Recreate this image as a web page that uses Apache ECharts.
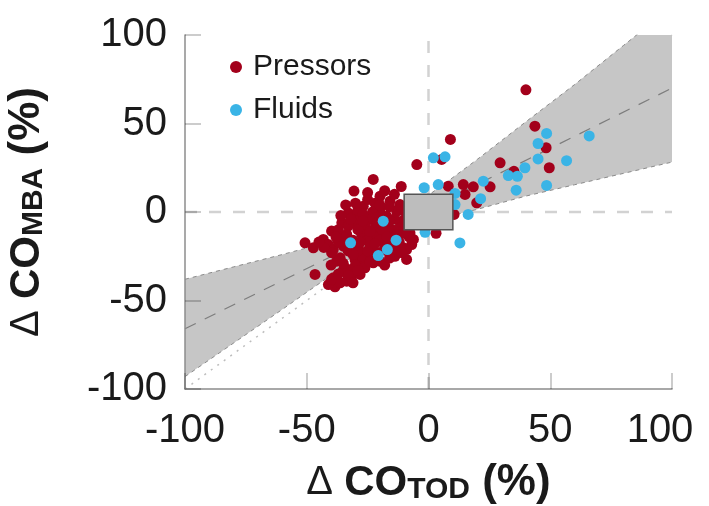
<!DOCTYPE html>
<html><head><meta charset="utf-8">
<script src="https://cdn.jsdelivr.net/npm/echarts@6/dist/echarts.min.js"></script>
<style>html,body{margin:0;padding:0;background:#fff}#c{width:709px;height:506px}</style>
</head><body><div id="c"></div>
<script>
// ---- data ----
const axisTicks = [-100, -50, 0, 50, 100];
const seriesNames = ['Pressors', 'Fluids'];

const pressors = [
  [40,69],[9,41],[5.4,29.7],[-4.8,26.8],[43.7,48.5],[48.3,36.3],[29.4,27.8],[35.1,23],[49.6,25],
  [25.3,14.2],[14.3,15.5],[18.4,14.2],[15,9.9],[8.1,14.6],[19.8,5.2],[10.5,-1.4],[3.1,-12],
  [-22.7,18.4],[-30.6,11.8],[-11.2,14.4],[-19.9,8.9],[-15.8,6.1],[-26.8,3.3],[-32.9,-0.5],
  [-13.1,0.5],[-19.9,1.4],[-11.7,4.2],[-6.2,3.3],[-16,3],[-25,7],[-22,5],[-18,12],[-14,10],
  [-23,0],[-9,-2],
  [-35.6,-6.1],[-29.5,-7.1],[-24,-4.2],[-17.2,-2.4],[-11,-5.2],[-7.6,-8],[-7.6,-11.8],[-30,-2],
  [-28,-4],[-33,-8],[-26,-8],[-22,-9],[-18,-7],[-14,-4],[-15,-10],[-12,-9],[-20,-12],
  [-39.8,-10.8],[-33.6,-12.7],[-27.4,-12.7],[-22.7,-13.7],[-13,-13],[-35,-14],[-43.2,-15.5],
  [-50.7,-17.4],[-47.3,-20.2],[-41.1,-18.4],[-39.1,-21.2],[-35,-19.3],[-37,-17],[-31,-16],
  [-25,-16],[-20,-16],[-16,-18],[-12,-17],[-28.8,-20.2],[-24,-19.3],[-10.3,-20.2],[-6.9,-18.4],
  [-6.2,-15.5],[-9,-21.2],[-8,-14],
  [-36.3,-25.9],[-30.2,-26.8],[-26.8,-25],[-13.8,-25],[-9,-26.8],[-19.9,-27.8],[-37.7,-27.8],
  [-39.8,-23],[-33,-22],[-29,-22],[-21,-23],[-17,-22],[-24,-25],[-27,-27],[-18,-30],
  [-32.9,-32.5],[-26.8,-30.6],[-22.7,-28.7],[-26.1,-31.5],[-30,-30],[-35,-33],[-46.6,-35.3],
  [-39.1,-37.2],[-38.4,-42.3],[-31.5,-36.3],[-28.1,-35.3],[-36.3,-40],[-41.1,-41],[-33.6,-39.1],
  [-39.8,-38],
  [-34,4],[-29,1],[-27,-1],[-21,-3],[-16,-5],[-19,-10],[-24,-11],[-29,-10],[-32,-4],[-37,-10],
  [-38,-14],[-33,-17],[-28,-17],[-22,-18],[-18,-20],[-14,-21],[-11,-23],[-16,-26],[-21,-27],
  [-25,-22],[-31,-24],[-35,-29],[-29,-33],[-24,-28],[-33,-36],[-37,-35],[-43,-20],[-45,-17],
  [-40,-30],[-31,-40],[-14,-14],[-10,-12],[-17,-14],[-27,-5],[-21,-6],[-36,-2],[-30,5],
  [-25,11],[-20,4],[-12,1]
];

const fluids = [
  [48.5,44.4],[45,38.7],[66,43],[45,30],[56.7,29],[39.6,25],[32.8,20.6],[36.5,20.2],[36,12.3],
  [48.5,15],[22.5,17.4],[21.4,7.5],[16.3,-1.4],[10.9,10.5],[10.9,4.2],[4,15.5],[-1.8,13.7],
  [2,30.6],[6.8,31.2],[-1.4,-11.5],[12.9,-17.5],[-18.6,-5.2],[-32,-17.4],[-13.3,-15.9],
  [-16.9,-21.2],[-20.6,-24.6]
];

// confidence band
const bandX     = [-100, -80, -60, -40,   -30,  -20,   -10,   0,   10,   20,   40,  60,  80,  100];
const bandUpper = [ -38, -31, -24, -16.6, -13.8, -8.6, -0.2,  9.5, 19.5, 29.7, 51,  72,  94,  116];
const bandLower = [ -93, -74, -55, -35.7, -23,  -14.6, -9.4, -5.5, -1.9, 1.5,  9,   15.4, 21.8, 28.2];

// regression line, identity line, zone box
const regX = [-100, 100];
const regY = [-66, 70];
const identX = [-100, 100];
const identY = [-100, 100];
const boxX = [-10, 10];
const boxY = [-10, 10];

// ---- chart ----
const FONT = 'Liberation Sans';
const RED = '#a3001b';
const BLUE = '#3ab4e6';
const INK = '#1a1a1a';

const zip = (xs, ys) => xs.map((x, i) => [x, ys[i]]);

const nameRich = {
  d: { fontSize: 40, fontFamily: FONT, color: INK, fontWeight: 'normal', lineHeight: 44 },
  b: { fontSize: 42, fontFamily: FONT, color: INK, fontWeight: 'bold', lineHeight: 44 },
  s: { fontSize: 30, fontFamily: FONT, color: INK, fontWeight: 'bold', lineHeight: 20, verticalAlign: 'bottom' },
  p: { fontSize: 44, fontFamily: FONT, color: INK, fontWeight: 'bold', lineHeight: 44 }
};

const chart = echarts.init(document.getElementById('c'), null, { renderer: 'canvas' });
chart.setOption({
  animation: false,
  backgroundColor: '#fff',
  grid: { left: 185, right: 37, top: 35, bottom: 117, containLabel: false, outerBoundsMode: 'none' },
  legend: {
    data: seriesNames,
    orient: 'vertical',
    left: 225, top: 47,
    itemWidth: 24, itemHeight: 12, itemGap: 13,
    icon: 'circle',
    textStyle: { fontSize: 30, fontFamily: FONT, color: INK }
  },
  xAxis: {
    type: 'value', min: -100, max: 100, interval: 50, z: 3,
    splitLine: { show: false },
    axisLine: { show: true, onZero: false, lineStyle: { color: '#8c8c8c', width: 1.5 } },
    axisTick: { show: true, inside: true, length: 16, lineStyle: { color: 'rgba(0,0,0,0.2)', width: 2 } },
    axisLabel: {
      fontSize: 40, fontFamily: FONT, color: INK, margin: 22,
      formatter: v => (v === axisTicks[axisTicks.length - 1] ? '{last|' + v + '}' : String(v)),
      rich: { last: { fontSize: 40, fontFamily: FONT, color: INK, padding: [0, 24, 0, 0] } }
    },
    name: '{d|Δ }{b|CO}{s|TOD}{p| (%)}',
    nameLocation: 'middle', nameGap: 72,
    nameTextStyle: { rich: nameRich }
  },
  yAxis: {
    type: 'value', min: -100, max: 100, interval: 50, z: 3,
    splitLine: { show: false },
    axisLine: { show: true, onZero: false, lineStyle: { color: '#8c8c8c', width: 1.5 } },
    axisTick: { show: true, inside: true, length: 16, lineStyle: { color: 'rgba(0,0,0,0.2)', width: 2 } },
    axisLabel: { fontSize: 40, fontFamily: FONT, color: INK, margin: 18 },
    name: '{d|Δ }{b|CO}{s|MBA}{p| (%)}',
    nameLocation: 'middle', nameGap: 136, nameRotate: 90,
    nameTextStyle: { rich: nameRich }
  },
  series: [
    { type: 'line', name: 'zeroV', data: [[0, -100], [0, 100]], symbol: 'none', silent: true, z: 1,
      lineStyle: { color: '#d2d2d2', width: 2.5, type: [12, 12] } },
    { type: 'line', name: 'zeroH', data: [[-100, 0], [100, 0]], symbol: 'none', silent: true, z: 1,
      lineStyle: { color: '#d2d2d2', width: 2.5, type: [12, 12] } },
    { type: 'line', name: 'identity', data: zip(identX, identY), symbol: 'none', silent: true, z: 1,
      lineStyle: { color: '#bdbdbd', width: 1.5, type: [2, 6] } },
    { type: 'custom', name: 'band', clip: true, silent: true, z: 2, data: [[0, 0]],
      renderItem: function (params, api) {
        const pts = [];
        for (let i = 0; i < bandX.length; i++) pts.push(api.coord([bandX[i], bandUpper[i]]));
        for (let i = bandX.length - 1; i >= 0; i--) pts.push(api.coord([bandX[i], bandLower[i]]));
        return { type: 'polygon', shape: { points: pts }, style: { fill: '#c6c6c6' } };
      } },
    { type: 'line', name: 'bandU', data: zip(bandX, bandUpper), symbol: 'none', silent: true, z: 2,
      lineStyle: { color: '#8a8a8a', width: 1, type: [4, 4] } },
    { type: 'line', name: 'bandL', data: zip(bandX, bandLower), symbol: 'none', silent: true, z: 2,
      lineStyle: { color: '#8a8a8a', width: 1, type: [4, 4] } },
    { type: 'line', name: 'regression', data: zip(regX, regY), symbol: 'none', silent: true, z: 2,
      lineStyle: { color: '#7d7d7d', width: 1.2, type: [12, 10] } },
    { type: 'scatter', name: 'Pressors', data: pressors, symbolSize: 11, z: 4,
      itemStyle: { color: RED, opacity: 1 } },
    { type: 'scatter', name: 'Fluids', data: fluids, symbolSize: 11, z: 4,
      itemStyle: { color: BLUE, opacity: 1 } },
    { type: 'custom', name: 'box', silent: true, z: 5, data: [[0, 0]],
      renderItem: function (params, api) {
        const a = api.coord([boxX[0], boxY[1]]);
        const b = api.coord([boxX[1], boxY[0]]);
        return { type: 'rect', shape: { x: a[0], y: a[1], width: b[0] - a[0], height: b[1] - a[1] },
          style: { fill: '#bdbdbd', stroke: '#555', lineWidth: 1.5 } };
      } }
  ]
});
</script>
</body></html>
